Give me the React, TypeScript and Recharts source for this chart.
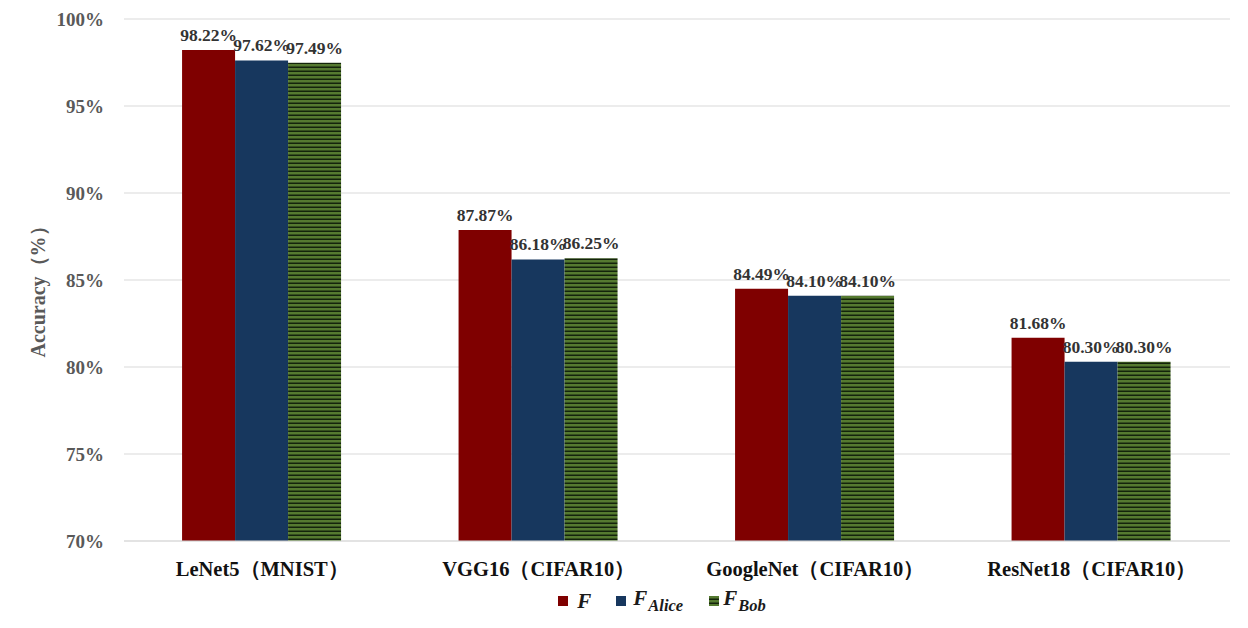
import React from "react";
import { BarChart, Bar, XAxis, YAxis, CartesianGrid, Legend, LabelList, Label } from "recharts";

const categories = ["LeNet5（MNIST）", "VGG16（CIFAR10）", "GoogleNet（CIFAR10）", "ResNet18（CIFAR10）"];
const fValues = [98.22, 87.87, 84.49, 81.68];
const aliceValues = [97.62, 86.18, 84.1, 80.3];
const bobValues = [97.49, 86.25, 84.1, 80.3];
const yTicks = [70, 75, 80, 85, 90, 95, 100];

const data = categories.map((name, i) => ({
  name,
  F: fValues[i],
  Alice: aliceValues[i],
  Bob: bobValues[i],
}));

const SERIF = "'Liberation Serif', 'Times New Roman', serif";
const fmt = (v: any) => `${Number(v).toFixed(2)}%`;

const legendItem = (color: string | null, sub: string | null, key: string, gap: number, mr: number) => (
  <span key={key} style={{ display: "inline-flex", alignItems: "center", marginRight: mr }}>
    {color ? (
      <span style={{ display: "inline-block", width: 10, height: 10, background: color, marginRight: gap }} />
    ) : (
      <svg width={10} height={10} style={{ marginRight: gap }}>
        <rect width={10} height={10} fill="url(#bobStripes)" />
      </svg>
    )}
    <span style={{ fontFamily: SERIF, fontStyle: "italic", fontWeight: "bold", fontSize: 21, color: "#1a1a1a" }}>
      F
      {sub ? (
        <sub style={{ fontSize: 16.5, verticalAlign: -6, marginLeft: 1 }}>{sub}</sub>
      ) : null}
    </span>
  </span>
);

const renderLegend = () => (
  <div style={{ display: "flex", justifyContent: "center", alignItems: "center", paddingLeft: 94, marginTop: -5 }}>
    {legendItem("#7f0000", null, "f", 9, 25)}
    {legendItem("#17375e", "Alice", "a", 7, 26)}
    {legendItem(null, "Bob", "b", 4, 0)}
  </div>
);

const labelStyle = { fill: "#333", fontSize: 17.5, fontWeight: "bold", fontFamily: SERIF };

export default function App() {
  return (
    <div style={{ position: "absolute", left: 0, top: 0, width: 1248, height: 628, background: "#fff" }}>
      <BarChart
        width={1248}
        height={628}
        data={data}
        margin={{ top: 19, right: 18, bottom: 0, left: 0 }}
        barGap={0}
        barCategoryGap="21%"
      >
        <defs>
          <pattern id="bobStripes" patternUnits="userSpaceOnUse" width={8} height={4}>
            <rect width={8} height={4} fill="#557a30" />
            <rect y={2.5} width={8} height={1.5} fill="#14240c" />
          </pattern>
        </defs>
        <CartesianGrid vertical={false} stroke="#d9d9d9" strokeWidth={1.2} />
        <XAxis
          dataKey="name"
          tickLine={false}
          axisLine={{ stroke: "#d9d9d9", strokeWidth: 1.2 }}
          tickMargin={14}
          height={50}
          tick={{ fill: "#111", fontSize: 20.5, fontWeight: "bold", fontFamily: SERIF }}
          interval={0}
        />
        <YAxis
          domain={[70, 100]}
          ticks={yTicks}
          width={124}
          tickLine={false}
          axisLine={false}
          tickSize={0}
          tickMargin={20}
          tickFormatter={(v: number) => `${v}%`}
          tick={{ fill: "#595959", fontSize: 19, fontWeight: "bold", fontFamily: SERIF }}
        >
          <Label
            value="Accuracy（%）"
            angle={-90}
            position="center"
            dx={-24}
            dy={7}
            style={{ fill: "#595959", fontSize: 20, fontWeight: "bold", fontFamily: SERIF, textAnchor: "middle" }}
          />
        </YAxis>
        <Legend verticalAlign="bottom" height={37} content={renderLegend} />
        <Bar dataKey="F" fill="#7f0000" isAnimationActive={false}>
          <LabelList dataKey="F" position="top" offset={9} formatter={fmt} style={labelStyle} />
        </Bar>
        <Bar dataKey="Alice" fill="#17375e" isAnimationActive={false}>
          <LabelList dataKey="Alice" position="top" offset={9} formatter={fmt} style={labelStyle} />
        </Bar>
        <Bar dataKey="Bob" fill="url(#bobStripes)" isAnimationActive={false}>
          <LabelList dataKey="Bob" position="top" offset={9} formatter={fmt} style={labelStyle} />
        </Bar>
      </BarChart>
    </div>
  );
}
